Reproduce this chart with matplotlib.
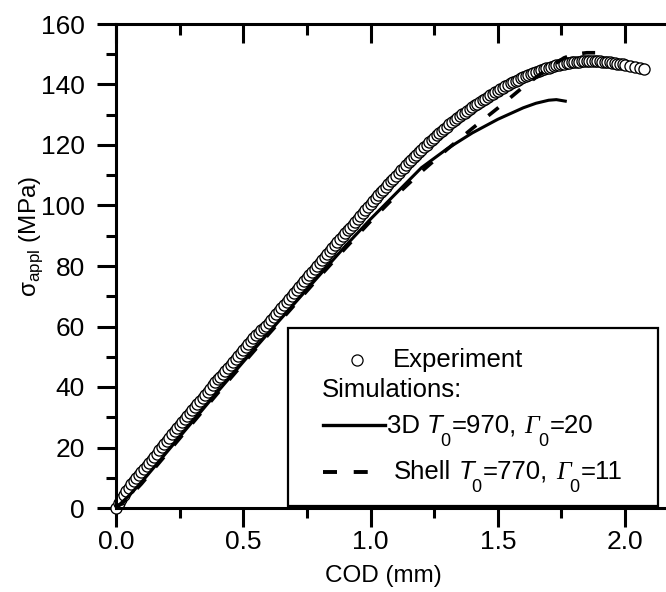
import matplotlib
matplotlib.use('Agg')
import matplotlib.pyplot as plt
from matplotlib.lines import Line2D
from matplotlib.patches import Rectangle
from matplotlib.text import Annotation
from matplotlib.ticker import MultipleLocator

# ---------------- data ----------------
exp_cod = [0.00, 0.01, 0.02, 0.03, 0.04, 0.05, 0.06, 0.07, 0.08, 0.09,
           0.10, 0.11, 0.12, 0.13, 0.14, 0.15, 0.16, 0.17, 0.18, 0.19,
           0.20, 0.21, 0.22, 0.23, 0.24, 0.25, 0.26, 0.27, 0.28, 0.29,
           0.30, 0.31, 0.32, 0.33, 0.34, 0.35, 0.36, 0.37, 0.38, 0.39,
           0.40, 0.41, 0.42, 0.43, 0.44, 0.45, 0.46, 0.47, 0.48, 0.49,
           0.50, 0.51, 0.52, 0.53, 0.54, 0.55, 0.56, 0.57, 0.58, 0.59,
           0.60, 0.61, 0.62, 0.63, 0.64, 0.65, 0.66, 0.67, 0.68, 0.69,
           0.70, 0.71, 0.72, 0.73, 0.74, 0.75, 0.76, 0.77, 0.78, 0.79,
           0.80, 0.81, 0.82, 0.83, 0.84, 0.85, 0.86, 0.87, 0.88, 0.89,
           0.90, 0.91, 0.92, 0.93, 0.94, 0.95, 0.96, 0.97, 0.98, 0.99,
           1.00, 1.01, 1.02, 1.03, 1.04, 1.05, 1.06, 1.07, 1.08, 1.09,
           1.10, 1.11, 1.12, 1.13, 1.14, 1.15, 1.16, 1.17, 1.18, 1.19,
           1.20, 1.21, 1.22, 1.23, 1.24, 1.25, 1.26, 1.27, 1.28, 1.29,
           1.30, 1.31, 1.32, 1.33, 1.34, 1.35, 1.36, 1.37, 1.38, 1.39,
           1.40, 1.41, 1.42, 1.43, 1.44, 1.45, 1.46, 1.47, 1.48, 1.49,
           1.50, 1.51, 1.52, 1.53, 1.54, 1.55, 1.56, 1.57, 1.58, 1.59,
           1.60, 1.61, 1.62, 1.63, 1.64, 1.65, 1.66, 1.67, 1.68, 1.69,
           1.70, 1.71, 1.72, 1.73, 1.74, 1.75, 1.76, 1.77, 1.78, 1.79,
           1.80, 1.81, 1.82, 1.83, 1.84, 1.85, 1.86, 1.87, 1.88, 1.89,
           1.90, 1.91, 1.92, 1.93, 1.94, 1.95, 1.96, 1.97, 1.98, 1.99,
           2.00, 2.02, 2.04, 2.06, 2.075]
exp_sigma = [0.0, 1.6, 3.0, 4.3, 5.5, 6.7, 7.8, 8.8, 9.8, 10.8,
             11.8, 12.8, 13.8, 14.85, 15.9, 16.95, 18.0, 19.05, 20.1, 21.15,
             22.2, 23.25, 24.3, 25.35, 26.4, 27.45, 28.5, 29.5, 30.5, 31.5,
             32.5, 33.5, 34.5, 35.5, 36.5, 37.5, 38.5, 39.5, 40.5, 41.5,
             42.5, 43.45, 44.4, 45.4, 46.4, 47.4, 48.4, 49.35, 50.3, 51.25,
             52.2, 53.15, 54.1, 55.1, 56.1, 57.05, 58.0, 58.75, 59.5, 60.25,
             61.0, 62.0, 63.0, 64.0, 65.0, 66.0, 67.0, 68.0, 69.0, 70.0,
             71.0, 72.0, 73.0, 74.0, 75.0, 76.0, 77.0, 78.0, 79.0, 80.0,
             81.0, 82.0, 83.0, 83.95, 84.9, 85.9, 86.9, 87.85, 88.8, 89.8,
             90.8, 91.75, 92.7, 93.7, 94.7, 95.65, 96.6, 97.6, 98.6, 99.55,
             100.5, 101.45, 102.4, 103.35, 104.3, 105.2, 106.1, 107.05, 108.0, 108.9,
             109.8, 110.7, 111.6, 112.5, 113.4, 114.25, 115.1, 115.95, 116.8, 117.65,
             118.5, 119.3, 120.1, 120.9, 121.7, 122.45, 123.2, 123.95, 124.7, 125.4,
             126.1, 126.8, 127.5, 128.15, 128.8, 129.45, 130.1, 130.7, 131.3, 131.9,
             132.5, 133.1, 133.7, 134.25, 134.8, 135.35, 135.9, 136.45, 137.0, 137.5,
             138.0, 138.5, 139.0, 139.45, 139.9, 140.35, 140.8, 141.2, 141.6, 142.0,
             142.4, 142.75, 143.1, 143.45, 143.8, 144.15, 144.5, 144.8, 145.1, 145.35,
             145.6, 145.85, 146.1, 146.3, 146.5, 146.7, 146.9, 147.05, 147.2, 147.3,
             147.4, 147.5, 147.6, 147.65, 147.7, 147.75, 147.8, 147.8, 147.8, 147.75,
             147.7, 147.6, 147.5, 147.4, 147.3, 147.15, 147.0, 146.9, 146.8, 146.65,
             146.5, 146.2, 145.9, 145.5, 145.0]

sim3d_cod = [0.0, 0.05, 0.1, 0.2, 0.3, 0.4, 0.5, 0.6, 0.7, 0.8, 0.9, 1.0,
             1.1, 1.2, 1.3, 1.4, 1.5, 1.6, 1.65, 1.7, 1.73, 1.765]
sim3d_sigma = [0.0, 4.0, 8.5, 18.5, 28.5, 38.5, 48.3, 58.0, 67.5, 77.0, 86.5, 95.5,
               104.0, 112.5, 118.7, 124.0, 128.5, 132.3, 133.8, 134.8, 135.0, 134.5]

shell_cod = [0.0, 0.05, 0.1, 0.2, 0.3, 0.4, 0.5, 0.6, 0.7, 0.8, 0.9, 1.0,
             1.1, 1.2, 1.3, 1.4, 1.5, 1.6, 1.7, 1.76, 1.8, 1.85, 1.9, 1.94]
shell_sigma = [0.0, 3.5, 8.0, 18.0, 28.0, 38.0, 47.8, 57.5, 67.0, 76.5, 85.8, 94.8,
               103.3, 111.2, 118.5, 125.5, 132.2, 139.2, 145.5, 148.8, 150.0, 150.5, 150.5, 150.3]

x_ticks = [0.0, 0.5, 1.0, 1.5, 2.0]
x_ticklabels = ['0.0', '0.5', '1.0', '1.5', '2.0']
y_ticks = [0, 20, 40, 60, 80, 100, 120, 140, 160]

label_exp = 'Experiment'
label_sim = 'Simulations:'
label_3d = ['3D', 'T', '0', '=970,', '\u0393', '0', '=20']
label_shell = ['Shell', 'T', '0', '=770,', '\u0393', '0', '=11']

# ---------------- style ----------------
plt.rcParams['font.family'] = ['Liberation Sans', 'DejaVu Sans']
plt.rcParams['mathtext.fontset'] = 'custom'
plt.rcParams['mathtext.rm'] = 'Liberation Sans'

W, H = 666, 592
fig = plt.figure(figsize=(W / 100, H / 100), dpi=100)
ax = fig.add_axes([116 / W, 1 - 508 / H, 560 / W, 484 / H])

lw_spine = 2.2
dash = (3.6, 4.3)

ax.plot(exp_cod, exp_sigma, linestyle='none', marker='o', markersize=8.0,
        markerfacecolor='white', markeredgecolor='black', markeredgewidth=0.95,
        zorder=2, clip_on=False)
ax.plot(sim3d_cod, sim3d_sigma, color='black', lw=2.2, zorder=3)
ax.plot(shell_cod, shell_sigma, color='black', lw=2.6, linestyle=(0, dash), zorder=3)

ax.set_xlim(0, 2.2)
ax.set_ylim(0, 160)
ax.set_xticks(x_ticks)
ax.set_xticklabels(x_ticklabels)
ax.set_yticks(y_ticks)
ax.xaxis.set_minor_locator(MultipleLocator(0.25))
ax.yaxis.set_minor_locator(MultipleLocator(10))

for s in ['left', 'bottom']:
    ax.spines[s].set_linewidth(lw_spine)
ax.spines['right'].set_visible(False)
ax.spines['top'].set_visible(False)

ax.tick_params(axis='both', which='major', direction='out', length=13.5,
               width=lw_spine, labelsize=19, color='black')
ax.tick_params(axis='both', which='minor', direction='out', length=7,
               width=lw_spine)
ax.tick_params(axis='x', which='major', pad=2)
ax.tick_params(axis='y', which='major', pad=9)
ax.tick_params(right=False, which='both')

top = ax.secondary_xaxis('top')
top.set_xticks(x_ticks)
top.xaxis.set_minor_locator(MultipleLocator(0.25))
top.tick_params(axis='x', which='major', direction='in', length=13.5,
                width=lw_spine, labeltop=False)
top.tick_params(axis='x', which='minor', direction='in', length=8,
                width=lw_spine)
top.spines['top'].set_linewidth(lw_spine)

ax.set_xlabel('COD (mm)', fontsize=17.5)
ax.xaxis.set_label_coords((383 - 116) / 560, (508 - 565) / 484)
ax.set_ylabel(r'$\mathrm{\sigma}_{\mathrm{appl}}$ (MPa)', fontsize=17.5)
ax.yaxis.set_label_coords((45 - 116) / 560, (508 - 236) / 484)

# ---------------- legend (manual box, figure pixel positions) ----------------
def fx(px):
    return px / W

def fy(py):
    return 1 - py / H

box = Rectangle((fx(288), fy(506)), fx(658) - fx(288), fy(328) - fy(506),
                transform=fig.transFigure, facecolor='white', edgecolor='black',
                linewidth=1.6, zorder=5)
fig.add_artist(box)

fig.add_artist(Line2D([fx(356.5)], [fy(360)], marker='o', markersize=8.0,
                      markerfacecolor='white', markeredgecolor='black',
                      markeredgewidth=0.9, linestyle='none',
                      transform=fig.transFigure, zorder=6))
fig.add_artist(Line2D([fx(323), fx(385)], [fy(425), fy(425)], color='black',
                      lw=2.4, transform=fig.transFigure, zorder=6))
fig.add_artist(Line2D([fx(323), fx(368)], [fy(472), fy(472)], color='black',
                      lw=2.8, linestyle=(0, dash), transform=fig.transFigure,
                      zorder=6))

fs_leg = 18.5
fs_sub = 13
fig.text(fx(393), fy(367), label_exp, fontsize=fs_leg, va='baseline', ha='left', zorder=7)
fig.text(fx(322), fy(397), label_sim, fontsize=fs_leg, va='baseline', ha='left', zorder=7)

sans = dict(family=['Liberation Sans', 'DejaVu Sans'])
sans_it = dict(family=['Liberation Sans', 'DejaVu Sans'], style='italic')
serif_it = dict(family=['Liberation Serif', 'DejaVu Serif'], style='italic')


def rich_row(x_px, base_px, parts):
    styles = [sans, sans_it, None, sans, serif_it, None, sans]
    gaps = [0, 5.0, -2.0, 1.2, 5.5, -1.0, 1.2]
    first = fig.text(fx(x_px), fy(base_px), parts[0], fontsize=fs_leg,
                     va='baseline', ha='left', zorder=7, **styles[0])
    prev = first
    for s, st, g in zip(parts[1:], styles[1:], gaps[1:]):
        if st is None:
            a = Annotation(s, xy=(1, 0), xycoords=(prev, first),
                           xytext=(g, -9.0), textcoords='offset points',
                           fontsize=fs_sub, va='bottom', ha='left', zorder=7,
                           **sans)
        else:
            a = Annotation(s, xy=(1, 0), xycoords=(prev, first),
                           xytext=(g, 0), textcoords='offset points',
                           fontsize=fs_leg, va='bottom', ha='left', zorder=7,
                           **st)
        fig.add_artist(a)
        prev = a


rich_row(387, 433, label_3d)
rich_row(394, 479, label_shell)

fig.savefig('out.png', dpi=100)
